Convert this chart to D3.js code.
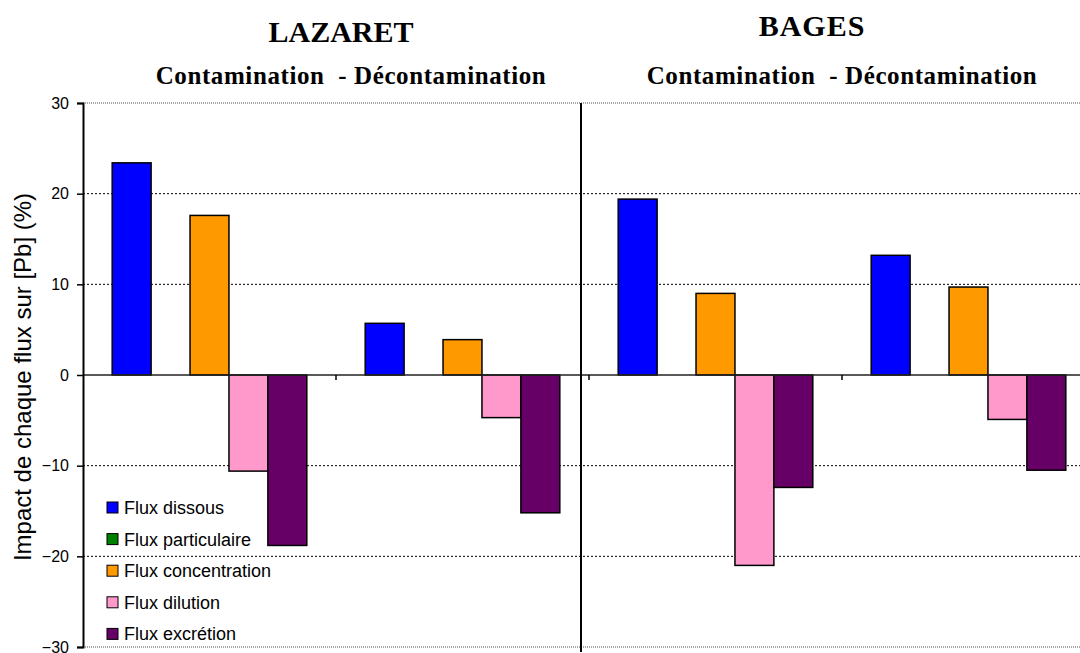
<!DOCTYPE html>
<html>
<head>
<meta charset="utf-8">
<script src="https://cdn.jsdelivr.net/npm/d3@7"></script>
<style>
  body { margin: 0; background: #fff; }
  svg { display: block; }
</style>
</head>
<body>
<div id="chart"></div>
<script>
// categories (two sites x two phases)
var categories = ["LAZARET C", "LAZARET D", "BAGES C", "BAGES D"];
var series = ["Flux dissous", "Flux particulaire", "Flux concentration", "Flux dilution", "Flux excrétion"];
var colors = ["#0000ff", "#008000", "#ff9900", "#ff99cc", "#660066"];

// values per series, one per category
var dissous = [23.4, 5.7, 19.4, 13.2];
var particulaire = [0, 0, 0, 0];
var concentration = [17.6, 3.9, 9.0, 9.7];
var dilution = [-10.6, -4.7, -21.0, -4.9];
var excretion = [-18.8, -15.2, -12.4, -10.5];

var yTicks = [30, 20, 10, 0, -10, -20, -30];
var siteTitles = ["LAZARET", "BAGES"];
var subTitle = "Contamination  - Décontamination";
var yLabel = "Impact de chaque flux sur [Pb] (%)";

var allValues = [dissous, particulaire, concentration, dilution, excretion];

(function(){
var W = 1080, H = 653;
var pLeft = 83, pRight = 1095, pTop = 103, pBottom = 647;

var svg = d3.select("#chart").append("svg")
  .attr("width", W).attr("height", H);

var x = d3.scaleBand().domain(categories).range([pLeft, pRight]).padding(0);
var xs = d3.scaleBand().domain(series).range([0, x.bandwidth()])
  .paddingInner(0).paddingOuter(0.75);
var y = d3.scaleLinear().domain([-30, 30]).range([pBottom, pTop]);

// grid lines
yTicks.forEach(function(t){
  if (t === 0) return;
  var edge = (t === 30 || t === -30);
  svg.append("line")
    .attr("x1", pLeft).attr("x2", W)
    .attr("y1", y(t)).attr("y2", y(t))
    .attr("stroke", edge ? "#a6a6a6" : "#000")
    .attr("stroke-width", edge ? 2 : 1)
    .attr("stroke-dasharray", edge ? "1,1" : "2,2");
});

// bars
var rows = [];
categories.forEach(function(c, ci){
  series.forEach(function(s, si){
    rows.push({cat: c, s: s, v: allValues[si][ci], color: colors[si]});
  });
});

svg.append("g").selectAll("rect")
  .data(rows.filter(function(d){ return d.v !== 0; }))
  .join("rect")
  .attr("x", function(d){ return x(d.cat) + xs(d.s); })
  .attr("y", function(d){ return y(Math.max(0, d.v)); })
  .attr("width", xs.bandwidth())
  .attr("height", function(d){ return Math.abs(y(d.v) - y(0)); })
  .attr("fill", function(d){ return d.color; })
  .attr("stroke", "#000")
  .attr("stroke-width", 1.5);

// zero line with category ticks
svg.append("line")
  .attr("x1", pLeft).attr("x2", W)
  .attr("y1", y(0)).attr("y2", y(0))
  .attr("stroke", "#222").attr("stroke-width", 1.5);
categories.slice(1).forEach(function(c){
  svg.append("line")
    .attr("x1", x(c)).attr("x2", x(c))
    .attr("y1", y(0)).attr("y2", y(0) + 5)
    .attr("stroke", "#000").attr("stroke-width", 1.5);
});

// y axis
var yAxis = d3.axisLeft(y).tickValues(yTicks).tickSize(6).tickPadding(8);
var ga = svg.append("g").attr("transform", "translate(" + pLeft + ",0)").call(yAxis);
ga.select(".domain").attr("stroke", "#000").attr("stroke-width", 2);
ga.selectAll(".tick line").attr("stroke", "#000").attr("stroke-width", 1.5);
ga.selectAll("text")
  .attr("font-family", "Liberation Sans, Arial, sans-serif")
  .attr("font-size", 16).attr("fill", "#000");

svg.append("text")
  .attr("transform", "translate(31,377) rotate(-90)")
  .attr("text-anchor", "middle")
  .attr("font-family", "Liberation Sans, Arial, sans-serif")
  .attr("font-size", 24)
  .text(yLabel);

// separator between sites
svg.append("line")
  .attr("x1", 581).attr("x2", 581)
  .attr("y1", pTop).attr("y2", 652)
  .attr("stroke", "#000").attr("stroke-width", 2);

// titles
var titleX = [341, 812], titleY = [42, 36];
var subX = [351, 842];
siteTitles.forEach(function(t, i){
  svg.append("text")
    .attr("x", titleX[i]).attr("y", titleY[i])
    .attr("text-anchor", "middle")
    .attr("font-family", "Liberation Serif, Times New Roman, serif")
    .attr("font-weight", "bold").attr("font-size", 30)
    .attr("letter-spacing", i === 1 ? 1 : 0)
    .text(t);
  svg.append("text")
    .attr("x", subX[i]).attr("y", 84)
    .attr("text-anchor", "middle")
    .attr("xml:space", "preserve")
    .style("white-space", "pre")
    .attr("font-family", "Liberation Serif, Times New Roman, serif")
    .attr("font-weight", "bold").attr("font-size", 25)
    .attr("letter-spacing", 0.6)
    .text(subTitle);
});

// legend
var leg = svg.append("g").attr("transform", "translate(107,502)");
series.forEach(function(s, i){
  var g = leg.append("g").attr("transform", "translate(0," + (i * 31.6) + ")");
  g.append("rect").attr("x", 0).attr("y", 0).attr("width", 11).attr("height", 11)
    .attr("fill", colors[i]).attr("stroke", "#000").attr("stroke-width", 1);
  g.append("text").attr("x", 17).attr("y", 12)
    .attr("font-family", "Liberation Sans, Arial, sans-serif")
    .attr("font-size", 18)
    .text(s);
});
})();
</script>
</body>
</html>
